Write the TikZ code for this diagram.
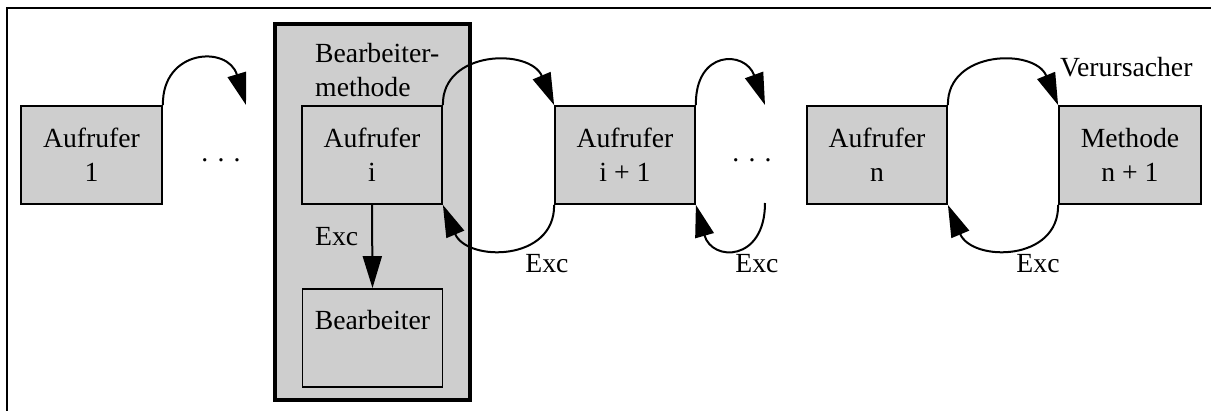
\documentclass[tikz,border=0pt]{standalone}
\usepackage{fontspec}
\setmainfont{Liberation Serif}
\usetikzlibrary{arrows.meta}
\definecolor{boxgray}{RGB}{206,206,206}
\tikzset{
  box/.style={draw, fill=boxgray, line width=1.8pt, minimum width=140pt,
    minimum height=98pt, align=center, inner sep=0pt},
  flow/.style={line width=2pt, -{Triangle[length=32pt,width=19pt]}},
  lbl/.style={inner sep=0pt, anchor=base}
}
\begin{document}
\begin{tikzpicture}[x=1pt,y=-1pt,font=\fontsize{27.7pt}{34pt}\selectfont]
\useasboundingbox (0,0) rectangle (1211,411);
% open frame
\draw[line width=2pt] (7,411) -- (7,8) -- (1211,8);
% handler method block
\node[draw, fill=boxgray, line width=4pt, minimum width=195pt,
      minimum height=376pt, inner sep=0pt] (bm) at (372.5,212) {};
\node[lbl, anchor=base west, align=left] (bmT) at (315,97) {Bearbeiter-\\methode};
% boxes
\node[box, minimum width=141pt] (a1) at (91.5,155) {Aufrufer\\1};
\node[box] (ai) at (372,155) {Aufrufer\\i};
\node[box] (ai1) at (625,155) {Aufrufer\\i + 1};
\node[box] (an) at (877,155) {Aufrufer\\n};
\node[box, minimum width=142pt] (m) at (1130,155) {Methode\\n + 1};
\node[box] (bearb) at (372.5,338) {};
\node[lbl] (bearbT) at (372.5,330) {Bearbeiter};
% ellipses
\node[lbl] (d1) at (221,162) {. . .};
\node[lbl] (d2) at (752,162) {. . .};
\coordinate (e1) at (246,105);
\coordinate (e2t) at (765,105);
\coordinate (e2b) at (765,203);
% calls
\draw[flow] (a1.north east) .. controls (162,49) and (228,45) .. (e1);
\draw[flow] (ai.north east) .. controls (442,50) and (530,48) .. (ai1.north west);
\draw[flow] (ai1.north east) .. controls (695,50) and (745,50) .. (e2t);
\draw[flow] (an.north east) .. controls (947,50) and (1035,48) .. (m.north west);
% exceptions
\draw[flow] (ai1.south west) .. controls (555,262) and (467,262) .. (ai.south east);
\draw[flow] (e2b) .. controls (765,262) and (712,262) .. (ai1.south east);
\draw[flow] (m.south west) .. controls (1059,262) and (972,262) .. (an.south east);
\draw[flow] (ai.south) -- (bearb.north);
% labels
\node[lbl, anchor=base west] (x0) at (315,246) {Exc};
\node[lbl] (x1) at (547,273) {Exc};
\node[lbl] (x2) at (757,273) {Exc};
\node[lbl] (x3) at (1038,273) {Exc};
\node[lbl, anchor=base west] (ver) at (1060,77) {Verursacher};
\end{tikzpicture}
\end{document}
